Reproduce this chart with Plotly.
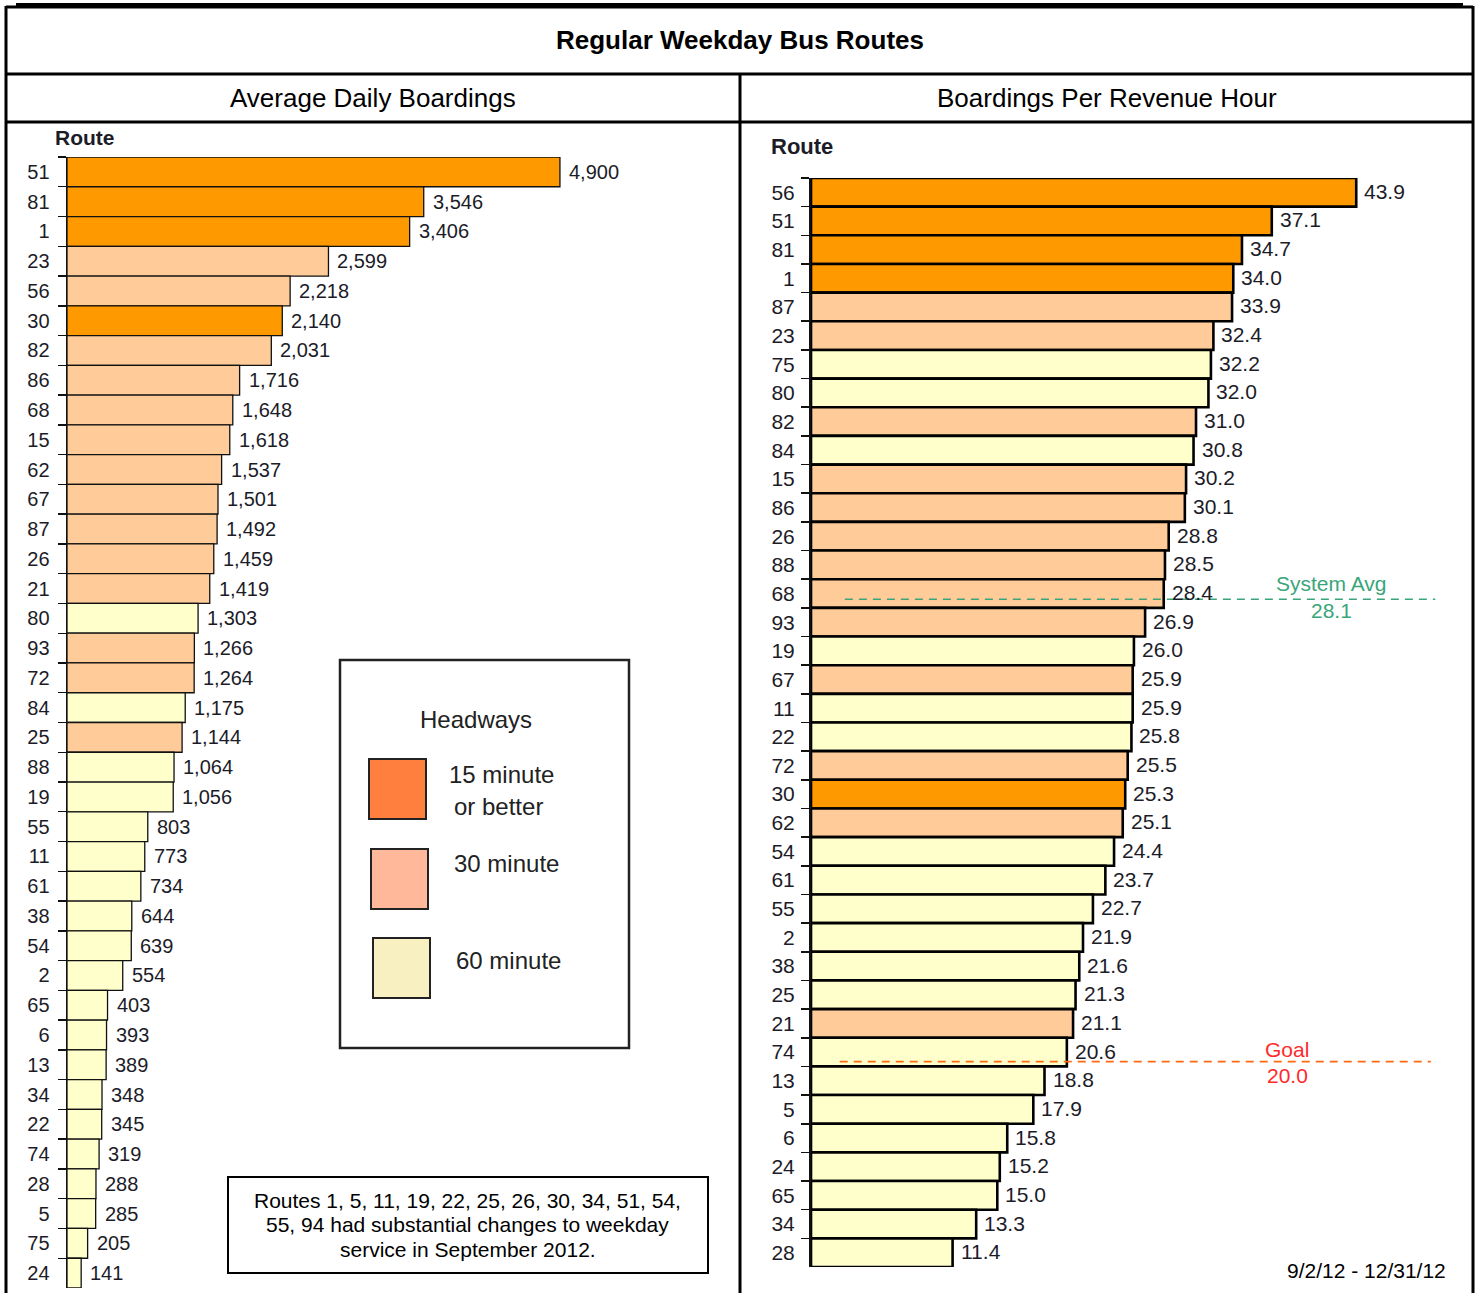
import plotly.graph_objects as go

W, H = 1478, 1293

# ---- Average daily boardings (left panel) ----
ROUTES_DAILY = ["51", "81", "1", "23", "56", "30", "82", "86", "68", "15", "62", "67", "87",
                "26", "21", "80", "93", "72", "84", "25", "88", "19", "55", "11", "61", "38",
                "54", "2", "65", "6", "13", "34", "22", "74", "28", "5", "75", "24"]
DAILY_BOARDINGS = [4900, 3546, 3406, 2599, 2218, 2140, 2031, 1716, 1648, 1618, 1537, 1501, 1492,
                   1459, 1419, 1303, 1266, 1264, 1175, 1144, 1064, 1056, 803, 773, 734, 644,
                   639, 554, 403, 393, 389, 348, 345, 319, 288, 285, 205, 141]
DAILY_HEADWAY = ["15", "15", "15", "30", "30", "15", "30", "30", "30", "30", "30", "30", "30",
                 "30", "30", "60", "30", "30", "60", "30", "60", "60", "60", "60", "60", "60",
                 "60", "60", "60", "60", "60", "60", "60", "60", "60", "60", "60", "60"]

# ---- Boardings per revenue hour (right panel) ----
ROUTES_HOURLY = ["56", "51", "81", "1", "87", "23", "75", "80", "82", "84", "15", "86", "26",
                 "88", "68", "93", "19", "67", "11", "22", "72", "30", "62", "54", "61", "55",
                 "2", "38", "25", "21", "74", "13", "5", "6", "24", "65", "34", "28"]
HOURLY_BOARDINGS = [43.9, 37.1, 34.7, 34.0, 33.9, 32.4, 32.2, 32.0, 31.0, 30.8, 30.2, 30.1, 28.8,
                    28.5, 28.4, 26.9, 26.0, 25.9, 25.9, 25.8, 25.5, 25.3, 25.1, 24.4, 23.7, 22.7,
                    21.9, 21.6, 21.3, 21.1, 20.6, 18.8, 17.9, 15.8, 15.2, 15.0, 13.3, 11.4]
HOURLY_HEADWAY = ["15", "15", "15", "15", "30", "30", "60", "60", "30", "60", "30", "30", "30",
                  "30", "30", "30", "60", "30", "60", "60", "30", "15", "30", "60", "60", "60",
                  "60", "60", "60", "30", "60", "60", "60", "60", "60", "60", "60", "60"]

SYSTEM_AVG = 28.1
GOAL = 20.0

HEADWAY_LABELS = {"15": ["15 minute", "or better"], "30": ["30 minute"], "60": ["60 minute"]}

BAR_COLORS = {"15": "#FF9900", "30": "#FFCC99", "60": "#FFFFCC"}
SWATCH_COLORS = {"15": "#FF7F3F", "30": "#FFB899", "60": "#F8F0C0"}

FONT = "Liberation Sans, Arial, sans-serif"
TEXT = "#1c1c28"


def px(x):
    return x / W


def py(y):
    return 1 - y / H


def rank_position(values, level):
    """Fractional row position where a level falls within a descending series."""
    for i in range(len(values) - 1):
        hi, lo = values[i], values[i + 1]
        if hi >= level >= lo:
            return i + (hi - level) / (hi - lo)
    return len(values) - 1


def note(x, y, text, size, color="#000000", xanchor="center", bold=False, **kw):
    """Text placed in page pixel coordinates."""
    return dict(x=px(x), y=py(y), xref="paper", yref="paper",
                text=f"<b>{text}</b>" if bold else text, showarrow=False,
                xanchor=xanchor, yanchor="middle", font=dict(size=size, color=color), **kw)


fig = go.Figure()

fig.add_trace(go.Bar(
    x=DAILY_BOARDINGS, y=ROUTES_DAILY, orientation="h",
    marker=dict(color=[BAR_COLORS[h] for h in DAILY_HEADWAY],
                line=dict(color="#111111", width=1.3)),
    xaxis="x", yaxis="y", hoverinfo="skip", showlegend=False,
))
fig.add_trace(go.Bar(
    x=HOURLY_BOARDINGS, y=ROUTES_HOURLY, orientation="h",
    marker=dict(color=[BAR_COLORS[h] for h in HOURLY_HEADWAY],
                line=dict(color="#000000", width=2.6)),
    xaxis="x2", yaxis="y2", hoverinfo="skip", showlegend=False,
))

left_scale = 0.1006   # px per boarding
right_scale = 12.42   # px per boarding/hour

hidden_x = dict(showline=False, showgrid=False, zeroline=False, showticklabels=False,
                ticks="", fixedrange=True)
cat_y = dict(type="category", showline=True, linecolor="#111111", showgrid=False,
             zeroline=False, ticks="outside", tickson="boundaries", ticklen=8,
             tickcolor="#111111", fixedrange=True)

n = len(ROUTES_DAILY)
fig.update_layout(
    width=W, height=H,
    margin=dict(l=0, r=0, t=0, b=0),
    paper_bgcolor="white", plot_bgcolor="rgba(0,0,0,0)",
    bargap=0,
    font=dict(family=FONT, color=TEXT),
    xaxis=dict(domain=[px(67), px(667)], range=[0, 600 / left_scale], anchor="y", **hidden_x),
    yaxis=dict(domain=[py(1288), py(157)], range=[n - 0.5, -0.5], anchor="x",
               linewidth=1.4, tickwidth=1.4, ticklabelstandoff=12,
               tickfont=dict(size=20, color=TEXT, family=FONT), **cat_y),
    xaxis2=dict(domain=[px(811), px(1450)], range=[0, 639 / right_scale], anchor="y2", **hidden_x),
    yaxis2=dict(domain=[py(1267), py(178)], range=[len(ROUTES_HOURLY) - 0.5, -0.5], anchor="x2",
                linewidth=2, tickwidth=1.6, ticklabelstandoff=10,
                tickfont=dict(size=21, color=TEXT, family=FONT), **cat_y),
)

annotations = []
shapes = []

# Value labels beside each bar (row index on the category axis)
for i, v in enumerate(DAILY_BOARDINGS):
    annotations.append(dict(x=v, y=i, xref="x", yref="y", text=f"{v:,}", showarrow=False,
                            xanchor="left", yanchor="middle", xshift=7,
                            font=dict(size=20, color=TEXT)))
for i, v in enumerate(HOURLY_BOARDINGS):
    annotations.append(dict(x=v, y=i, xref="x2", yref="y2", text=f"{v:.1f}", showarrow=False,
                            xanchor="left", yanchor="middle", xshift=6, yshift=1,
                            font=dict(size=21, color=TEXT)))

# Reference lines: system average and goal
avg_pos = rank_position(HOURLY_BOARDINGS, SYSTEM_AVG)
goal_pos = rank_position(HOURLY_BOARDINGS, GOAL)
shapes.append(dict(type="line", xref="x2 domain", yref="y2", x0=0.053, x1=0.977,
                   y0=avg_pos, y1=avg_pos, line=dict(color="#3AA57A", width=1.6, dash="8px,6px")))
shapes.append(dict(type="line", xref="x2 domain", yref="y2", x0=0.045, x1=0.970,
                   y0=goal_pos, y1=goal_pos, line=dict(color="#FF6A10", width=1.6, dash="8px,6px")))
for label, level, xc, color, up, down in [
        ("System Avg", SYSTEM_AVG, 1331, "#3AA57A", 16, -11),
        ("Goal", GOAL, 1287, "#FF2A2A", 12, -14)]:
    pos = rank_position(HOURLY_BOARDINGS, level)
    for text, shift in [(label, up), (f"{level:.1f}", down)]:
        annotations.append(dict(x=px(xc), y=pos, xref="paper", yref="y2", text=text,
                                showarrow=False, xanchor="center", yanchor="middle",
                                yshift=shift, font=dict(size=21, color=color)))

# Titles and headings
annotations += [
    note(740, 40, "Regular Weekday Bus Routes", 26, bold=True),
    note(373, 98, "Average Daily Boardings", 26),
    note(1107, 98, "Boardings Per Revenue Hour", 26),
    note(53, 138, "Route", 21, color=TEXT, xanchor="left", bold=True),
    note(769, 146, "Route", 22, color=TEXT, xanchor="left", bold=True),
    note(1448, 1270, "9/2/12 - 12/31/12", 21, xanchor="right"),
]

# Note box
note_lines = ["Routes 1, 5, 11, 19, 22, 25, 26, 30, 34, 51, 54,",
              "55, 94 had substantial changes to weekday",
              "service in September 2012."]
shapes.append(dict(type="rect", xref="paper", yref="paper", x0=px(228), x1=px(708),
                   y0=py(1273), y1=py(1177), line=dict(color="#000000", width=2),
                   fillcolor="white"))
for i, line in enumerate(note_lines):
    annotations.append(note(468, 1200 + 24.5 * i, line, 21))

# Headway legend
shapes.append(dict(type="rect", xref="paper", yref="paper", x0=px(340), x1=px(629),
                   y0=py(1048), y1=py(660), line=dict(color="#222222", width=2.5),
                   fillcolor="white"))
annotations.append(note(476, 719, "Headways", 24, color="#222222"))
# (key, swatch left, swatch top, text left, first text line centre)
legend_rows = [("15", 369, 759, 447, 774), ("30", 371, 849, 452, 863), ("60", 373, 938, 454, 960)]
for key, sx, sy, tx, ty in legend_rows:
    shapes.append(dict(type="rect", xref="paper", yref="paper", x0=px(sx), x1=px(sx + 57),
                       y0=py(sy + 60), y1=py(sy), line=dict(color="#222222", width=2),
                       fillcolor=SWATCH_COLORS[key]))
    for j, txt in enumerate(HEADWAY_LABELS[key]):
        annotations.append(note(tx + (5 if j else 0), ty + 32 * j, txt, 24,
                                color="#222222", xanchor="left"))

# Frame lines
frame = dict(type="line", xref="paper", yref="paper", line=dict(color="#000000", width=3))
shapes += [
    dict(frame, x0=px(16), x1=px(1463), y0=py(5), y1=py(5), line=dict(color="#000000", width=4)),
    dict(frame, x0=px(6), x1=px(1473), y0=py(7), y1=py(7)),
    dict(frame, x0=px(6), x1=px(6), y0=py(6), y1=py(H)),
    dict(frame, x0=px(1473), x1=px(1473), y0=py(6), y1=py(H)),
    dict(frame, x0=px(6), x1=px(1473), y0=py(74), y1=py(74)),
    dict(frame, x0=px(6), x1=px(1473), y0=py(122), y1=py(122)),
    dict(frame, x0=px(740), x1=px(740), y0=py(74), y1=py(H)),
]

fig.update_layout(annotations=annotations, shapes=shapes)

fig.write_html("out.html", config={"displayModeBar": False, "staticPlot": True})
